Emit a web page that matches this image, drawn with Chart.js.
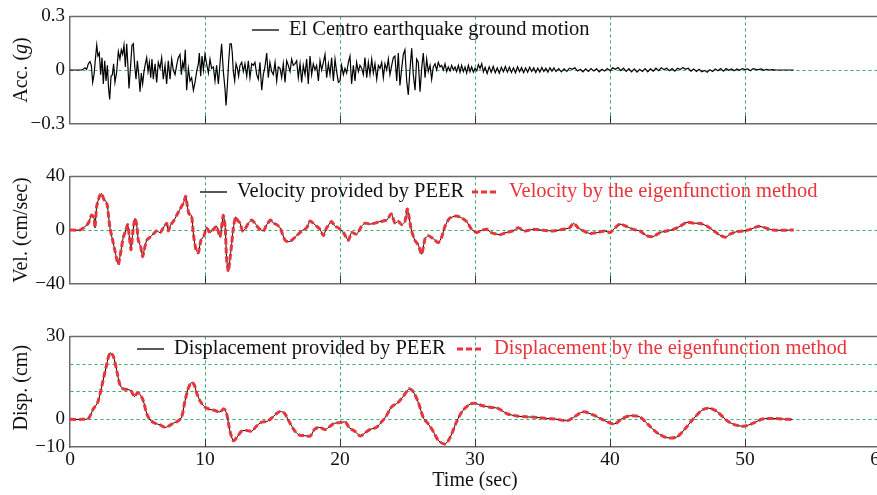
<!DOCTYPE html>
<html>
<head>
<meta charset="utf-8">
<script src="https://cdn.jsdelivr.net/npm/chart.js@4"></script>
<style>
html, body { margin: 0; padding: 0; background: #fff; overflow: hidden; width: 877px; height: 495px; }
canvas { position: absolute; left: 0; }
</style>
</head>
<body>
<canvas id="acc" width="900" height="140" style="top:0px"></canvas>
<canvas id="vel" width="900" height="140" style="top:160px"></canvas>
<canvas id="disp" width="900" height="175" style="top:320px"></canvas>
<script>
// time axis (sec)
var timeTicks = [0, 10, 20, 30, 40, 50, 60];

// ground acceleration (g)
var accT = [0, 0.86, 0.99, 1.11, 1.23, 1.36, 1.48, 1.58, 1.68, 1.78, 1.88, 1.98, 2.07, 2.17, 2.27, 2.37, 2.47, 2.57, 2.67, 2.77,
  2.86, 2.94, 3.04, 3.14, 3.23, 3.33, 3.46, 3.58, 3.70, 3.80, 3.90, 4.00, 4.10, 4.20, 4.27, 4.37, 4.49, 4.59, 4.69, 4.79,
  4.89, 4.99, 5.09, 5.19, 5.28, 5.38, 5.48, 5.58, 5.68, 5.78, 5.88, 5.98, 6.07, 6.17, 6.30, 6.42, 6.54, 6.67, 6.79, 6.91,
  7.04, 7.16, 7.28, 7.41, 7.53, 7.65, 7.78, 7.90, 8.02, 8.15, 8.25, 8.35, 8.44, 8.54, 8.64, 8.77, 8.89, 9.01, 9.14, 9.26,
  9.38, 9.51, 9.58, 9.68, 9.78, 9.88, 10.0, 10.12, 10.25, 10.37, 10.49, 10.62, 10.74, 10.86, 10.99, 11.11, 11.23, 11.36, 11.48, 11.56,
  11.65, 11.75, 11.85, 11.95, 12.02, 12.10, 12.20, 12.30, 12.40, 12.49, 12.59, 12.72, 12.84, 12.96, 13.09, 13.21, 13.33, 13.46, 13.58, 13.70,
  13.83, 13.95, 14.07, 14.20, 14.32, 14.44, 14.57, 14.69, 14.81, 14.94, 15.06, 15.19, 15.31, 15.43, 15.56, 15.68, 15.80, 15.93, 16.05, 16.17,
  16.30, 16.42, 16.54, 16.67, 16.79, 16.91, 17.04, 17.16, 17.28, 17.41, 17.53, 17.65, 17.78, 17.90, 18.02, 18.15, 18.27, 18.40, 18.52, 18.64,
  18.77, 18.89, 19.01, 19.14, 19.26, 19.38, 19.51, 19.63, 19.75, 19.88, 20.00, 20.12, 20.25, 20.37, 20.49, 20.62, 20.74, 20.86, 20.99, 21.11,
  21.23, 21.36, 21.48, 21.61, 21.73, 21.85, 21.98, 22.10, 22.22, 22.35, 22.47, 22.59, 22.72, 22.84, 22.96, 23.09, 23.21, 23.33, 23.46, 23.58,
  23.70, 23.83, 23.95, 24.07, 24.20, 24.32, 24.44, 24.57, 24.69, 24.81, 24.94, 25.06, 25.19, 25.31, 25.43, 25.56, 25.68, 25.80, 25.93, 26.05,
  26.17, 26.30, 26.42, 26.54, 26.67, 26.79, 26.91, 27.04, 27.16, 27.28, 27.41, 27.53, 27.65, 27.78, 27.90, 28.02, 28.15, 28.27, 28.40, 28.52,
  28.64, 28.77, 28.89, 29.01, 29.14, 29.26, 29.38, 29.51, 29.63, 29.75, 29.88, 30.0, 30.13, 30.25, 30.37, 30.5, 30.62, 30.75, 30.9, 31.05,
  31.2, 31.35, 31.5, 31.65, 31.8, 31.95, 32.1, 32.25, 32.4, 32.55, 32.7, 32.85, 33.0, 33.15, 33.3, 33.45, 33.6, 33.75, 33.9, 34.05,
  34.2, 34.35, 34.5, 34.65, 34.8, 34.95, 35.1, 35.25, 35.4, 35.55, 35.7, 35.85, 36.0, 36.2, 36.4, 36.6, 36.8, 37.0, 37.2, 37.4,
  37.6, 37.8, 38.0, 38.2, 38.4, 38.6, 38.8, 39.0, 39.2, 39.4, 39.6, 39.8, 40.0, 40.2, 40.4, 40.6, 40.8, 41.0, 41.2, 41.4,
  41.6, 41.8, 42.0, 42.2, 42.4, 42.6, 42.8, 43.0, 43.2, 43.4, 43.6, 43.8, 44.0, 44.2, 44.4, 44.6, 44.8, 45.0, 45.2, 45.4,
  45.6, 45.8, 46.0, 46.2, 46.4, 46.6, 46.8, 47.0, 47.2, 47.4, 47.6, 47.8, 48.0, 48.2, 48.4, 48.6, 48.8, 49.0, 49.2, 49.4,
  49.6, 49.8, 50.0, 50.2, 50.4, 50.6, 50.8, 51.0, 51.2, 51.4, 51.6, 51.8, 52.0, 52.3, 53.6];
var accG = [0, 0, 0.005, 0.012, 0.003, 0.035, 0.047, 0.026, -0.069, -0.026, 0.061, 0.139, 0.078, 0.095, -0.026, 0.069, -0.078, 0.052, -0.061, 0.026,
  -0.104, -0.165, -0.035, -0.026, 0.035, -0.069, -0.009, 0.104, 0.061, 0.113, 0.087, 0.139, 0.017, 0.147, 0.052, -0.104, 0.026, 0.139, 0.147, 0.026,
  -0.052, 0.052, -0.026, -0.121, -0.017, -0.078, -0.009, 0.035, 0.069, -0.009, 0.043, -0.043, 0.061, -0.052, 0.035, -0.069, 0.043, 0.009, 0.069, -0.052,
  0.026, -0.078, 0.052, -0.052, 0.061, 0, -0.026, 0.026, 0.069, 0.087, -0.026, 0.043, 0.009, 0.113, -0.113, 0.009, -0.061, -0.043, -0.113, -0.069,
  -0.009, 0.035, 0.095, -0.035, 0.078, 0, 0.087, 0.035, -0.017, 0.061, 0.009, 0.017, -0.061, 0.026, -0.078, 0.035, 0.147, -0.009, -0.104, -0.199,
  -0.095, 0.043, 0.147, 0.147, 0.095, -0.009, -0.061, 0.035, 0.009, -0.035, 0.026, 0.043, -0.009, 0.035, -0.035, 0.052, -0.043, 0.035, 0.026, 0.043,
  -0.026, -0.052, 0.043, -0.113, -0.026, 0.017, 0.095, -0.043, 0.043, -0.009, -0.026, 0.043, -0.061, 0.017, 0.009, -0.043, 0.035, -0.069, 0.052, 0.026,
  -0.009, 0.061, 0.026, 0.035, 0.052, -0.043, 0.035, -0.069, 0.026, -0.026, 0.061, -0.078, 0.078, -0.026, 0.035, 0, 0.026, -0.061, 0.052, 0,
  0.043, 0.087, -0.043, 0.035, -0.026, 0.069, -0.061, 0.061, -0.009, -0.069, -0.061, 0.026, -0.026, 0.009, -0.017, 0.043, 0.078, -0.078, 0.026, -0.061,
  0.043, -0.009, 0.026, 0.009, -0.026, 0.069, -0.043, 0.043, -0.026, 0.061, -0.017, 0.035, -0.052, 0.026, 0.009, 0.043, -0.043, 0.035, 0, 0.061,
  -0.026, 0.026, 0.069, 0.078, -0.061, 0.095, -0.087, 0.009, 0.087, 0.113, -0.061, -0.139, 0.009, 0.121, -0.026, -0.113, 0.061, 0.043, -0.121, 0.009,
  0.095, -0.043, 0.061, -0.009, 0.026, -0.052, 0.017, 0.035, 0, 0.043, 0.017, 0.026, 0, 0.035, -0.009, 0.017, -0.005, 0.026, 0, 0.017,
  -0.009, 0.026, -0.012, 0.026, -0.009, 0.017, -0.017, 0.026, -0.009, 0.017, -0.012, 0.01, -0.005, 0.03, 0.008, 0.035, -0.01, 0.015, -0.02, 0.018,
  -0.012, 0.02, -0.015, 0.012, -0.018, 0.015, -0.01, 0.02, -0.012, 0.016, -0.014, 0.012, -0.016, 0.018, -0.01, 0.014, -0.015, 0.012, -0.012, 0.016,
  -0.008, 0.012, -0.014, 0.01, -0.012, 0.014, -0.008, 0.01, -0.012, 0.012, -0.006, 0.012, -0.008, 0.008, -0.01, 0.006, -0.008, 0.01, 0.004, 0.012,
  -0.006, 0.004, -0.01, 0.006, -0.008, 0.008, -0.006, 0.006, -0.01, 0.004, -0.006, 0.008, -0.004, 0.012, 0.004, 0.014, -0.004, 0.01, -0.008, 0.008,
  -0.01, 0.006, -0.012, 0.004, -0.008, 0.008, -0.01, 0.006, -0.006, 0.01, -0.004, 0.012, 0.002, 0.01, -0.004, 0.008, -0.006, 0.01, 0.002, 0.014,
  0.004, 0.01, -0.006, 0.006, -0.008, 0.004, -0.01, -0.002, -0.012, 0.002, -0.008, 0.006, -0.004, 0.008, -0.006, 0.008, -0.002, 0.006, -0.004, 0.006,
  -0.002, 0.008, 0.002, 0.006, -0.004, 0.008, 0.004, 0.002, 0.006, -0.002, 0.004, 0, 0.002, 0, 0];

// velocity (cm/sec)
var velT = [0, 0.74, 1.0, 1.36, 1.6, 1.78, 1.85, 1.98, 2.22, 2.35, 2.52, 2.67, 2.77, 2.96, 3.21, 3.46, 3.58, 3.75, 3.95, 4.12,
  4.27, 4.4, 4.52, 4.64, 4.81, 4.94, 5.06, 5.23, 5.38, 5.5, 5.68, 5.93, 6.17, 6.42, 6.67, 6.91, 7.16, 7.28, 7.46, 7.65,
  7.9, 8.15, 8.4, 8.57, 8.69, 8.81, 9.0, 9.14, 9.33, 9.5, 9.7, 9.93, 10.12, 10.37, 10.62, 10.86, 11.11, 11.23, 11.36, 11.5,
  11.6, 11.73, 11.85, 11.98, 12.1, 12.27, 12.4, 12.59, 12.79, 12.96, 13.21, 13.46, 13.7, 13.95, 14.32, 14.57, 14.86, 15.06, 15.31, 15.56,
  15.93, 16.17, 16.42, 16.79, 17.16, 17.53, 17.78, 18.02, 18.27, 18.52, 18.77, 19.01, 19.38, 19.63, 19.88, 20.25, 20.62, 20.86, 21.23, 21.6,
  21.85, 22.22, 22.59, 22.96, 23.46, 23.8, 24.07, 24.32, 24.57, 24.81, 24.99, 25.3, 25.55, 25.8, 26.05, 26.3, 26.54, 26.91, 27.28, 27.53,
  27.78, 28.1, 28.6, 29.0, 29.38, 29.75, 30.1, 30.5, 30.86, 31.2, 31.85, 32.3, 32.8, 33.2, 33.7, 34.3, 35.06, 35.8, 36.5, 37.0,
  37.3, 37.65, 38.05, 38.5, 39.1, 39.6, 40.0, 40.37, 40.74, 41.2, 41.73, 42.2, 42.7, 43.2, 43.7, 44.2, 44.7, 45.2, 45.7, 46.2,
  46.7, 47.2, 47.7, 48.2, 48.6, 48.9, 49.4, 49.9, 50.4, 51.0, 51.5, 52.1, 52.8, 53.6];
var velV = [0, 0, 1.6, 5.1, 11.2, 8.8, 1.6, 17.9, 26.1, 27.2, 22.6, 21.4, 17.9, 1.6, -10, -21.6, -25.8, -17, -5.3, -0.7,
  4, -5.3, -14.7, -3, 8.6, 4, -7.7, -12.3, -19.8, -14.7, -7.7, -5.3, -3, -0.7, -1.9, 1.6, 5.1, -0.7, 4, 6.3,
  10.9, 15.6, 20, 25.1, 17.9, 12.1, 10.9, -3, -14.7, -17, -7.7, -4.2, 1.6, -1.9, 0.5, 2.8, -5.3, 2.8, 10.9, 1.6,
  -21.6, -30.9, -21.6, -10, 1.6, 9.8, 7.4, 5.1, -0.7, 0.5, 5.1, 7.4, 5.1, 1.6, -0.7, 4, 7.4, 5.1, 4, 1.6,
  -7.7, -8.8, -7.7, -4.2, -0.7, 1.6, 6.7, 5.1, 2.8, 0.5, -4.2, 1.6, 6.3, 2.8, 1.6, -1.9, -7.7, -1.9, -3, 2.8,
  5.1, 4.4, 5.1, 6.3, 7.4, 12.1, 5.1, 6.3, 4, 6.3, 15.6, -0.7, -7.7, -11.2, -18.1, -6.5, -4.2, -6.5, -9.5, -5.3,
  2.8, 8.6, 10.5, 9.1, 6.3, 0.5, -1.9, -0.2, 0.5, -1.9, -3.5, -1.9, -0.7, 1.6, -0.7, 0.5, -0.2, -0.7, 0.5, 1.6,
  5.1, 1.6, -0.7, -2.6, -1.9, -0.7, -1.9, 1.6, 4.4, 2.8, 0.5, -0.7, -4.2, -4.9, -1.9, -0.7, 0.5, 2.8, 5.8, 5.1,
  4.9, 2.8, -0.7, -4.2, -5.3, -3, -1.2, -0.7, 0.5, 2.8, 1.6, 0, -0.2, 0];

// displacement (cm)
var dispT = [0, 0.86, 1.36, 1.73, 2.05, 2.35, 2.67, 2.96, 3.2, 3.46, 3.7, 3.95, 4.3, 4.54, 4.77, 4.99, 5.19, 5.43, 5.68, 5.93,
  6.3, 6.67, 7.04, 7.28, 7.65, 8.0, 8.27, 8.52, 8.77, 9.0, 9.2, 9.38, 9.63, 10.0, 10.37, 10.74, 11.1, 11.4, 11.6, 11.85,
  12.1, 12.35, 12.7, 13.1, 13.46, 13.8, 14.2, 14.57, 14.9, 15.3, 15.6, 15.9, 16.3, 16.67, 17.0, 17.4, 17.8, 18.1, 18.4, 18.6,
  18.9, 19.26, 19.6, 20.0, 20.4, 20.7, 21.1, 21.5, 21.85, 22.2, 22.7, 23.1, 23.46, 23.8, 24.3, 24.7, 25.1, 25.4, 25.8, 26.2,
  26.5, 26.9, 27.3, 27.78, 28.15, 28.64, 29.1, 29.63, 30.0, 30.5, 31.1, 31.7, 32.35, 33.1, 33.8, 34.6, 35.3, 36.0, 36.8, 37.3,
  38.0, 38.8, 39.5, 40.3, 40.9, 41.5, 42.2, 42.85, 43.5, 44.2, 44.94, 45.4, 46.2, 46.9, 47.4, 47.9, 48.6, 49.1, 49.9, 50.6,
  51.3, 52.1, 52.9, 53.5];
var dispV = [0, 0, 0.3, 3.8, 6.1, 11.9, 18.8, 24, 22.9, 17.7, 12.5, 11, 10.8, 10.2, 8.2, 9.6, 9.0, 6.7, 2.1, -0.2,
  -1.4, -2, -2.9, -2.5, -1.4, -0.6, 0.9, 6.7, 11.3, 13.3, 12.5, 9.6, 6.7, 4.4, 3.6, 3.2, 2.7, 3.8, 2.1, -4.3,
  -7.7, -6.6, -4.3, -4.0, -4.3, -2.5, -1, -0.8, 0.3, 2.1, 2.9, 2.1, -1.4, -4.3, -5.7, -5.9, -6, -3.7, -2.9, -3.1,
  -3.7, -2.5, -1.4, -1.2, -1.0, -3.1, -4.3, -6, -4.9, -3.7, -2.9, -0.8, 1.5, 4.4, 6.1, 8.4, 11, 10.2, 6.1, 0.3,
  -1.4, -4.3, -7.7, -8.9, -6.6, -0.8, 3.2, 5.5, 5.8, 5, 4.4, 4, 2.1, 1.2, 0.9, 0.7, 0.3, 0.1, -0.5, 0.7,
  2.7, 1.5, -0.2, -1.7, 0.3, 1.3, 0.9, -2, -4.9, -6.6, -6.4, -4.3, 0.3, 3.6, 4, 2.9, -0.2, -1.7, -2.5, -1.4,
  0.1, 0.3, 0.1, -0.1];

// y tick values
var accTicks = [-0.3, 0, 0.3];
var velTicks = [-40, 0, 40];
var dispTicks = [-10, 0, 10, 20, 30];
var dispLabelled = [-10, 0, 30];

var GRID = 'rgba(45,165,95,0.95)';
var AXIS = '#6a6a6a';
var RED = '#e8343a';
var SERIF = '"Liberation Serif", "DejaVu Serif", serif';

Chart.defaults.font.family = SERIF;
Chart.defaults.color = '#111';

function pts(ts, vs) {
  return ts.map(function (t, i) { return { x: t, y: vs[i] }; });
}
function minus(v) {
  return String(v).replace('-', '\u2212');
}

var decor = {
  id: 'decor',
  afterDraw: function (chart, args, o) {
    var ctx = chart.ctx, a = chart.chartArea, x = chart.scales.x;
    ctx.save();
    // top frame
    ctx.strokeStyle = AXIS;
    ctx.lineWidth = 1.5;
    ctx.beginPath();
    ctx.moveTo(a.left, a.top);
    ctx.lineTo(a.right, a.top);
    ctx.stroke();
    // inward tick marks
    ctx.strokeStyle = '#333';
    ctx.lineWidth = 1;
    x.ticks.forEach(function (t) {
      if (t.value > 0 && t.value < 60) {
        var px = Math.round(x.getPixelForValue(t.value)) + 0.5;
        ctx.beginPath();
        ctx.moveTo(px, a.bottom);
        ctx.lineTo(px, a.bottom - 8);
        ctx.stroke();
      }
    });
    ctx.restore();

    // y title (rotated, with italic parts)
    ctx.save();
    ctx.translate(o.titleX, (a.top + a.bottom) / 2 + (o.titleDy || 0));
    ctx.rotate(-Math.PI / 2);
    ctx.fillStyle = '#111';
    ctx.textBaseline = 'middle';
    ctx.textAlign = 'left';
    var w = 0;
    o.title.forEach(function (p) {
      ctx.font = (p[1] ? 'italic ' : '') + '20px ' + SERIF;
      w += ctx.measureText(p[0]).width;
    });
    var cx = -w / 2;
    o.title.forEach(function (p) {
      ctx.font = (p[1] ? 'italic ' : '') + '20px ' + SERIF;
      ctx.fillText(p[0], cx, 0);
      cx += ctx.measureText(p[0]).width;
    });
    ctx.restore();

    // legend inside the plot
    ctx.save();
    ctx.font = '20.5px ' + SERIF;
    ctx.textBaseline = 'middle';
    ctx.textAlign = 'left';
    o.legend.forEach(function (it) {
      var ds = chart.data.datasets[it.ds];
      ctx.strokeStyle = ds.borderColor;
      ctx.lineWidth = Math.max(ds.borderWidth, 1.3);
      ctx.setLineDash(ds.borderDash || []);
      ctx.beginPath();
      ctx.moveTo(it.x, o.legendY);
      ctx.lineTo(it.x + 27, o.legendY);
      ctx.stroke();
      ctx.setLineDash([]);
      ctx.fillStyle = ds.borderColor === RED ? RED : '#111';
      ctx.fillText(ds.label, it.x + 37, o.legendY);
    });
    ctx.restore();
  }
};

function makePanel(id, datasets, cfg) {
  return new Chart(document.getElementById(id), {
    type: 'line',
    data: { datasets: datasets },
    plugins: [decor],
    options: {
      responsive: false,
      animation: false,
      layout: { padding: { top: cfg.padTop, right: 20, left: 0, bottom: 0 } },
      elements: { point: { radius: 0 } },
      plugins: {
        legend: { display: false },
        tooltip: { enabled: false },
        decor: cfg.decor
      },
      scales: {
        x: {
          type: 'linear',
          min: 0,
          max: 60,
          afterBuildTicks: function (s) { s.ticks = timeTicks.map(function (v) { return { value: v }; }); },
          afterFit: function (s) { s.height = cfg.xHeight; },
          grid: {
            color: function (c) { return c.tick && c.tick.value > 0 && c.tick.value < 60 ? GRID : 'rgba(0,0,0,0)'; },
            lineWidth: 1,
            drawTicks: false
          },
          border: { display: true, color: AXIS, width: 1.5, dash: [3, 3] },
          ticks: { display: cfg.xLabels, padding: 1, color: '#111', font: { size: 19.5 }, maxRotation: 0 },
          title: { display: cfg.xLabels, text: 'Time (sec)', color: '#111', font: { size: 20 }, padding: { top: 0, bottom: 2 } }
        },
        y: {
          min: cfg.yMin,
          max: cfg.yMax,
          afterBuildTicks: function (s) { s.ticks = cfg.yTicks.map(function (v) { return { value: v }; }); },
          afterFit: function (s) { s.width = 70; },
          grid: {
            color: function (c) { return c.tick && cfg.yGrid.indexOf(c.tick.value) >= 0 ? GRID : 'rgba(0,0,0,0)'; },
            lineWidth: 1,
            drawTicks: false
          },
          border: { display: true, color: AXIS, width: 1.5, dash: [3, 3] },
          ticks: {
            padding: 5,
            color: '#111',
            font: { size: 19 },
            callback: function (v) { return cfg.yLabels.indexOf(v) >= 0 ? minus(v) : ''; }
          }
        }
      }
    }
  });
}

makePanel('acc', [{
  label: 'El Centro earthquake ground motion',
  data: pts(accT, accG),
  borderColor: '#000',
  borderWidth: 1.2,
  tension: 0
}], {
  padTop: 10, xHeight: 14, xLabels: false,
  yMin: -0.3, yMax: 0.3, yTicks: accTicks, yLabels: accTicks, yGrid: [0],
  decor: { titleX: 22, title: [['Acc. (', false], ['g', true], [')', false]], legendY: 30, legend: [{ ds: 0, x: 252 }] }
});

makePanel('vel', [{
  label: 'Velocity provided by PEER',
  data: pts(velT, velV),
  borderColor: '#000',
  borderWidth: 1,
  tension: 0.2,
  order: 1
}, {
  label: 'Velocity by the eigenfunction method',
  data: pts(velT, velV),
  borderColor: RED,
  borderWidth: 3,
  borderDash: [6, 3],
  tension: 0.2,
  order: 0
}], {
  padTop: 12, xHeight: 13, xLabels: false,
  yMin: -40, yMax: 40, yTicks: velTicks, yLabels: velTicks, yGrid: [0],
  decor: { titleX: 22, title: [['Vel. (cm/sec)', false]], legendY: 32, legend: [{ ds: 0, x: 200 }, { ds: 1, x: 472 }] }
});

makePanel('disp', [{
  label: 'Displacement provided by PEER',
  data: pts(dispT, dispV),
  borderColor: '#000',
  borderWidth: 1,
  tension: 0.3,
  order: 1
}, {
  label: 'Displacement by the eigenfunction method',
  data: pts(dispT, dispV),
  borderColor: RED,
  borderWidth: 3,
  borderDash: [6, 3],
  tension: 0.3,
  order: 0
}], {
  padTop: 11, xHeight: 48, xLabels: true,
  yMin: -10, yMax: 30, yTicks: dispTicks, yLabels: dispLabelled, yGrid: [0, 10, 20],
  decor: { titleX: 22, titleDy: -4, title: [['Disp. (cm)', false]], legendY: 29, legend: [{ ds: 0, x: 137 }, { ds: 1, x: 457 }] }
});
</script>
</body>
</html>
